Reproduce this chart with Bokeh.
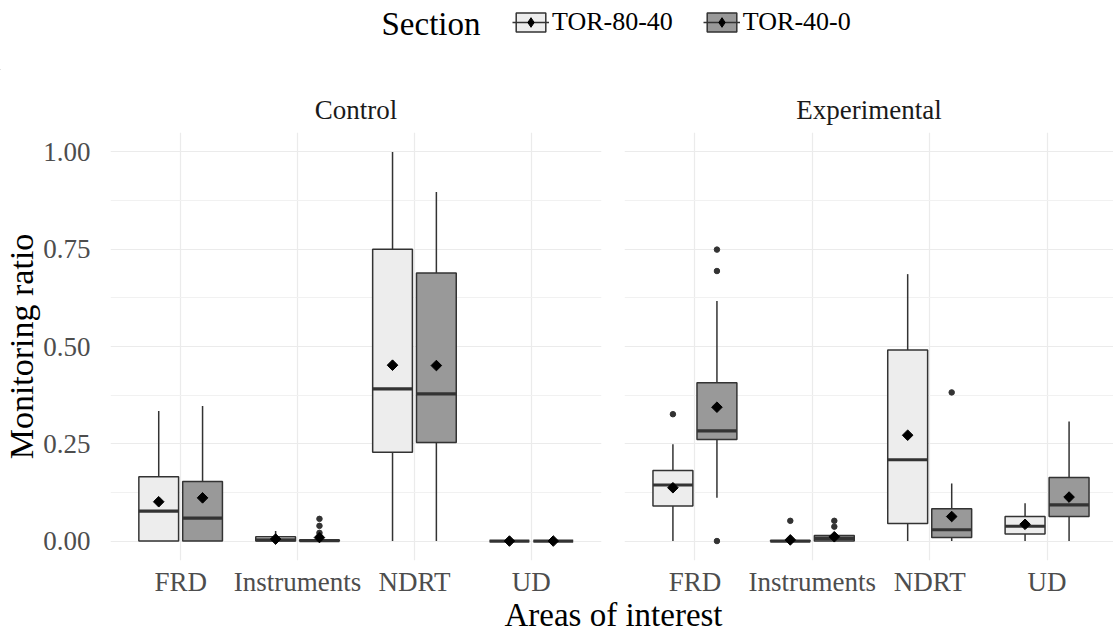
from bokeh.plotting import figure
from bokeh.models import (Range1d, FixedTicker, Legend, LegendItem, Label,
                          ColumnDataSource, PrintfTickFormatter)
from bokeh.layouts import column, row
from bokeh.embed import file_html
from bokeh.resources import INLINE
from bokeh.transform import dodge

categories = ["FRD", "Instruments", "NDRT", "UD"]
sections = ["TOR-80-40", "TOR-40-0"]
panels = ["Control", "Experimental"]
y_ticks = [0.0, 0.25, 0.5, 0.75, 1.0]
y_minor = [0.125, 0.375, 0.625, 0.875]

# ---- Control, TOR-80-40
control_lower_8040 = [0.000, 0.000, 0.000, 0.000]
control_q1_8040 = [0.000, 0.000, 0.228, 0.000]
control_median_8040 = [0.077, 0.003, 0.391, 0.000]
control_q3_8040 = [0.165, 0.011, 0.750, 0.000]
control_upper_8040 = [0.334, 0.026, 1.000, 0.000]
control_mean_8040 = [0.101, 0.005, 0.452, 0.000]
control_out_cat_8040 = []
control_out_val_8040 = []

# ---- Control, TOR-40-0
control_lower_400 = [0.000, 0.000, 0.000, 0.000]
control_q1_400 = [0.000, 0.000, 0.253, 0.000]
control_median_400 = [0.059, 0.001, 0.378, 0.000]
control_q3_400 = [0.153, 0.003, 0.689, 0.000]
control_upper_400 = [0.347, 0.007, 0.897, 0.000]
control_mean_400 = [0.111, 0.009, 0.451, 0.000]
control_out_cat_400 = ["Instruments", "Instruments", "Instruments", "Instruments"]
control_out_val_400 = [0.012, 0.021, 0.039, 0.057]

# ---- Experimental, TOR-80-40
exp_lower_8040 = [0.000, 0.000, 0.000, 0.000]
exp_q1_8040 = [0.090, 0.000, 0.045, 0.018]
exp_median_8040 = [0.144, 0.000, 0.209, 0.038]
exp_q3_8040 = [0.181, 0.001, 0.491, 0.063]
exp_upper_8040 = [0.249, 0.002, 0.686, 0.097]
exp_mean_8040 = [0.137, 0.003, 0.272, 0.043]
exp_out_cat_8040 = ["FRD", "Instruments"]
exp_out_val_8040 = [0.326, 0.052]

# ---- Experimental, TOR-40-0
exp_lower_400 = [0.111, 0.000, 0.000, 0.000]
exp_q1_400 = [0.261, 0.000, 0.009, 0.063]
exp_median_400 = [0.283, 0.007, 0.029, 0.093]
exp_q3_400 = [0.407, 0.014, 0.083, 0.163]
exp_upper_400 = [0.617, 0.020, 0.148, 0.307]
exp_mean_400 = [0.344, 0.011, 0.063, 0.113]
exp_out_cat_400 = ["FRD", "FRD", "FRD", "Instruments", "Instruments", "NDRT"]
exp_out_val_400 = [0.000, 0.694, 0.749, 0.037, 0.052, 0.382]

FONT = "Liberation Serif"
FILLS = {"TOR-80-40": "#EDEDED", "TOR-40-0": "#999999"}
OFFSETS = {"TOR-80-40": -0.1875, "TOR-40-0": 0.1875}
EDGE = "#333333"
GRID = "#EBEBEB"
BOX_W = 0.34
PX_PER_UNIT = 493 / 4.2

panel_data = {
    "Control": {
        "TOR-80-40": (control_lower_8040, control_q1_8040, control_median_8040, control_q3_8040,
                      control_upper_8040, control_mean_8040, control_out_cat_8040, control_out_val_8040),
        "TOR-40-0": (control_lower_400, control_q1_400, control_median_400, control_q3_400,
                     control_upper_400, control_mean_400, control_out_cat_400, control_out_val_400),
    },
    "Experimental": {
        "TOR-80-40": (exp_lower_8040, exp_q1_8040, exp_median_8040, exp_q3_8040,
                      exp_upper_8040, exp_mean_8040, exp_out_cat_8040, exp_out_val_8040),
        "TOR-40-0": (exp_lower_400, exp_q1_400, exp_median_400, exp_q3_400,
                     exp_upper_400, exp_mean_400, exp_out_cat_400, exp_out_val_400),
    },
}


def make_panel(name, width, border_left, border_right, show_y):
    frame_w = width - border_left - border_right
    x_end = 0.4 + frame_w / PX_PER_UNIT
    p = figure(width=width, height=530, x_range=Range1d(0.4, x_end), y_range=Range1d(-0.05, 1.05),
               output_backend="svg", toolbar_location=None, title=name,
               min_border_left=border_left, min_border_right=border_right,
               min_border_top=62, min_border_bottom=40)
    p.outline_line_color = None
    p.title.align = "center"
    p.title.text_font = FONT
    p.title.text_font_size = "27px"
    p.title.text_font_style = "normal"
    p.title.text_color = "#1A1A1A"
    p.title.standoff = 16

    p.xaxis.ticker = FixedTicker(ticks=[i + 1 for i in range(len(categories))])
    p.xaxis.major_label_overrides = {i + 1: c for i, c in enumerate(categories)}
    p.xaxis.axis_line_color = None
    p.xaxis.major_tick_line_color = None
    p.xaxis.minor_tick_line_color = None
    p.xaxis.major_label_text_font = FONT
    p.xaxis.major_label_text_font_size = "27px"
    p.xaxis.major_label_text_color = "#4D4D4D"
    p.xaxis.major_label_standoff = 0

    p.yaxis.ticker = FixedTicker(ticks=y_ticks, minor_ticks=y_minor)
    p.yaxis.formatter = PrintfTickFormatter(format="%.2f")
    p.yaxis.axis_line_color = None
    p.yaxis.major_tick_line_color = None
    p.yaxis.minor_tick_line_color = None
    p.yaxis.major_label_text_font = FONT
    p.yaxis.major_label_text_font_size = "27px"
    p.yaxis.major_label_text_color = "#4D4D4D"
    p.yaxis.major_label_standoff = 14
    if show_y:
        p.yaxis.axis_label = "Monitoring ratio"
        p.yaxis.axis_label_text_font = FONT
        p.yaxis.axis_label_text_font_size = "34px"
        p.yaxis.axis_label_text_font_style = "normal"
        p.yaxis.axis_label_text_color = "black"
        p.yaxis.axis_label_standoff = 0
    else:
        p.yaxis.visible = False

    p.ygrid.ticker = FixedTicker(ticks=y_ticks, minor_ticks=y_minor)
    p.ygrid.grid_line_color = GRID
    p.ygrid.grid_line_width = 1.2
    p.ygrid.minor_grid_line_color = "#F1F1F1"
    p.ygrid.minor_grid_line_width = 1
    p.xgrid.grid_line_color = GRID
    p.xgrid.grid_line_width = 1.2

    for sec in sections:
        lower, q1, med, q3, upper, mean, ocat, oval = panel_data[name][sec]
        off = OFFSETS[sec]
        src = ColumnDataSource(dict(x=[i + 1 for i in range(len(categories))], lower=lower, q1=q1,
                                    median=med, q3=q3, upper=upper, mean=mean))
        xs = dodge("x", off)
        p.segment(x0=xs, x1=xs, y0="q3", y1="upper", source=src, line_color=EDGE, line_width=1.5)
        p.segment(x0=xs, x1=xs, y0="lower", y1="q1", source=src, line_color=EDGE, line_width=1.5)
        p.vbar(x=xs, width=BOX_W, bottom="q1", top="q3", source=src, fill_color=FILLS[sec],
               line_color=EDGE, line_width=1.5)
        p.segment(x0=dodge("x", off - BOX_W / 2), x1=dodge("x", off + BOX_W / 2), y0="median",
                  y1="median", source=src, line_color=EDGE, line_width=3.2)
        osrc = ColumnDataSource(dict(x=[categories.index(c) + 1 for c in ocat], y=oval))
        p.scatter(x=dodge("x", off), y="y", source=osrc, size=5.5, color=EDGE)
        p.scatter(x=xs, y="mean", source=src, marker="square", angle=0.785398, size=7.5,
                  color="black")
    return p


left = make_panel("Control", 612, 108, 11, True)
right = make_panel("Experimental", 501, 12, 0, False)

# legend strip (key glyphs use an off-screen point so that the legend can draw them)
leg = figure(width=1113, height=70, x_range=Range1d(0, 1113), y_range=Range1d(0, 70),
             output_backend="svg", toolbar_location=None, min_border=0)
leg.axis.visible = False
leg.grid.visible = False
leg.outline_line_color = None
items = []
for sec in sections:
    s = ColumnDataSource(dict(x=[-5000], y=[-5000], top=[-5000], bottom=[-5001]))
    rb = leg.vbar(x="x", width=1, bottom="bottom", top="top", source=s, fill_color=FILLS[sec],
                  line_color=EDGE, line_width=1.5)
    rm = leg.segment(x0="x", x1="x", y0="y", y1="y", source=s, line_color=EDGE, line_width=1.5)
    rd = leg.scatter(x="x", y="y", source=s, marker="diamond", size=9, color="black")
    items.append(LegendItem(label=sec, renderers=[rb, rm, rd]))
legend = Legend(items=items, orientation="horizontal", location=(512, 33), padding=0, margin=0,
                spacing=30, glyph_width=37, glyph_height=24, label_standoff=3,
                label_text_font=FONT, label_text_font_size="26px", label_text_color="black",
                background_fill_alpha=0, border_line_color=None)
leg.add_layout(legend, "center")
leg.add_layout(Label(x=381, y=47, text="Section", text_font=FONT, text_font_size="33px",
                     text_baseline="middle", text_align="left", text_color="black"))

# x title strip: transparent, pulled up a little over the panels' bottom margin
xt = figure(width=1113, height=42, x_range=Range1d(0, 1113), y_range=Range1d(0, 42),
            output_backend="svg", toolbar_location=None, min_border=0, margin=(-10, 0, 0, 0))
xt.axis.visible = False
xt.grid.visible = False
xt.outline_line_color = None
xt.background_fill_alpha = 0
xt.border_fill_alpha = 0
xt.add_layout(Label(x=613, y=18, text="Areas of interest", text_font=FONT, text_font_size="33px",
                    text_baseline="middle", text_align="center", text_color="black"))

layout = column(leg, row(left, right), xt)
open("out.html", "w").write(file_html(layout, INLINE))
